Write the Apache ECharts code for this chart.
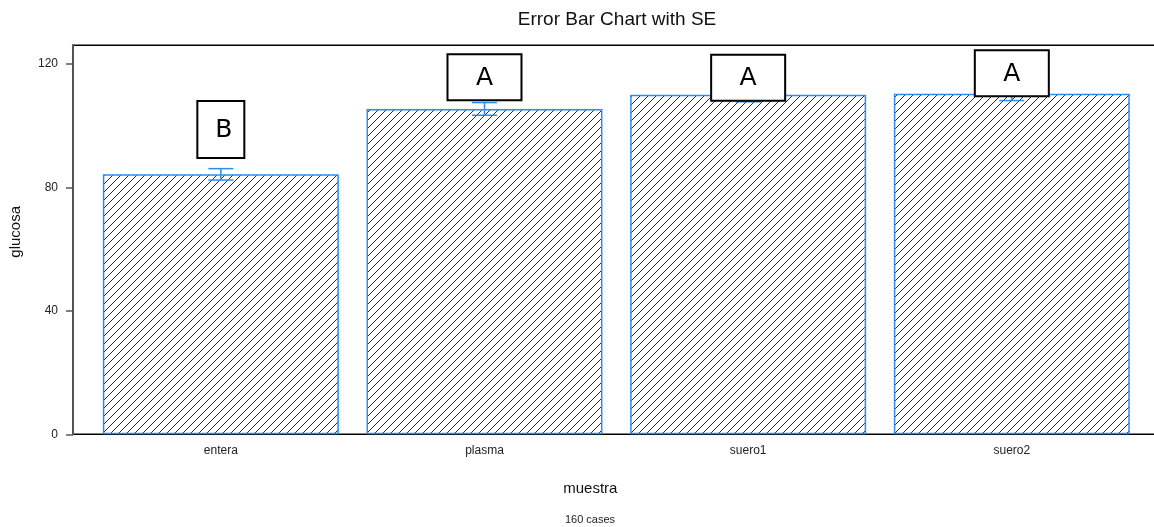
<!DOCTYPE html>
<html>
<head>
<meta charset="utf-8">
<script src="https://cdn.jsdelivr.net/npm/echarts@6/dist/echarts.min.js"></script>
<style>html,body{margin:0;padding:0;background:#fff}#c{width:1154px;height:527px}</style>
</head>
<body>
<div id="c"></div>
<script>
const categories = ['entera', 'plasma', 'suero1', 'suero2'];
const means = [84.2, 105.4, 110.0, 110.3];
const stdErr = [1.85, 2.05, 2.3, 2.2];
const letters = ['B', 'A', 'A', 'A'];
const letterBase = [89.5, 108.2, 108.0, 109.5];
const yMin = 0, yMax = 126, yInterval = 40;

const FONT = 'Liberation Sans, Arial, sans-serif';
const BLUE = '#2d8cf0';

function hatch() {
  const s = 8;
  const c = document.createElement('canvas');
  c.width = s; c.height = s;
  const g = c.getContext('2d');
  g.fillStyle = '#fff';
  g.fillRect(0, 0, s, s);
  g.strokeStyle = '#2a2a2a';
  g.lineWidth = 1;
  g.beginPath();
  g.moveTo(0, s); g.lineTo(s, 0);
  g.moveTo(-2, 2); g.lineTo(2, -2);
  g.moveTo(s - 2, s + 2); g.lineTo(s + 2, s - 2);
  g.stroke();
  return c;
}

const chart = echarts.init(document.getElementById('c'));
const gridTop = 45.3, gridBottom = 92.7;

chart.setOption({
  animation: false,
  backgroundColor: '#fff',
  title: [
    { text: 'Error Bar Chart with SE', left: 617, top: 10, padding: 0, textAlign: 'center',
      textStyle: { fontFamily: FONT, fontSize: 19, fontWeight: 'normal', color: '#111' } },
    { text: '160 cases', left: 590, top: 514, padding: 0, textAlign: 'center',
      textStyle: { fontFamily: FONT, fontSize: 11, fontWeight: 'normal', color: '#222' } }
  ],
  grid: [
    { left: 89, right: 10.35, top: gridTop, bottom: gridBottom, containLabel: false, outerBoundsMode: 'none' },
    { left: 73, right: -40, top: gridTop, bottom: gridBottom, show: true, outerBoundsMode: 'none',
      borderColor: '#000', borderWidth: 1.5, backgroundColor: 'transparent' }
  ],
  xAxis: [
    { type: 'category', gridIndex: 0, data: categories,
      axisLine: { show: false }, axisTick: { show: false },
      axisLabel: { margin: 10, fontFamily: FONT, fontSize: 12, color: '#222' },
      name: 'muestra', nameLocation: 'middle', nameGap: 47,
      nameTextStyle: { fontFamily: FONT, fontSize: 15, color: '#111', padding: [0, 52, 0, 0] } },
    { type: 'value', gridIndex: 1, show: false, min: 0, max: 1 }
  ],
  yAxis: [
    { type: 'value', gridIndex: 0, min: yMin, max: yMax, show: false, splitLine: { show: false } },
    { type: 'value', gridIndex: 1, min: yMin, max: yMax, interval: yInterval,
      axisLine: { show: true, lineStyle: { color: '#555', width: 2 } },
      axisTick: { show: true, length: 7, lineStyle: { color: '#555', width: 1.5 } },
      axisLabel: { margin: 15, fontFamily: FONT, fontSize: 12, color: '#222', showMaxLabel: false },
      splitLine: { show: false },
      name: 'glucosa', nameLocation: 'middle', nameGap: 50,
      nameTextStyle: { fontFamily: FONT, fontSize: 15, color: '#111', padding: [0, 0, 0, 16] } }
  ],
  series: [
    { type: 'bar', xAxisIndex: 0, yAxisIndex: 0, data: means,
      barCategoryGap: '10.5%',
      itemStyle: { color: { image: hatch(), repeat: 'repeat' }, borderColor: BLUE, borderWidth: 1.5 },
      z: 2 },
    { type: 'custom', xAxisIndex: 0, yAxisIndex: 0,
      data: means.map((m, i) => [i, m, stdErr[i]]),
      renderItem: function (params, api) {
        const i = api.value(0), m = api.value(1), e = api.value(2);
        const top = api.coord([i, m + e]);
        const bot = api.coord([i, m - e]);
        const hw = 12.5;
        const st = { stroke: BLUE, lineWidth: 1.5 };
        return { type: 'group', children: [
          { type: 'line', shape: { x1: top[0], y1: top[1], x2: bot[0], y2: bot[1] }, style: st },
          { type: 'line', shape: { x1: top[0] - hw, y1: top[1], x2: top[0] + hw, y2: top[1] }, style: st },
          { type: 'line', shape: { x1: bot[0] - hw, y1: bot[1], x2: bot[0] + hw, y2: bot[1] }, style: st }
        ] };
      },
      z: 3 },
    { type: 'custom', xAxisIndex: 0, yAxisIndex: 0,
      data: letterBase.map((b, i) => [i, b]),
      renderItem: function (params, api) {
        const idx = params.dataIndex;
        const letter = letters[idx];
        const p = api.coord([api.value(0), api.value(1)]);
        const w = letter === 'B' ? 47 : 74;
        const h = letter === 'B' ? 57 : 46;
        return { type: 'group', children: [
          { type: 'rect', shape: { x: p[0] - w / 2, y: p[1] - h, width: w, height: h },
            style: { fill: '#fff', stroke: '#000', lineWidth: 2 } },
          { type: 'text', x: p[0] + (letter === 'B' ? 3 : 0), y: p[1] - h / 2 + 1,
            style: { text: letter, fill: '#000', fontFamily: 'DejaVu Sans, sans-serif', fontSize: 25,
              align: 'center', verticalAlign: 'middle' } }
        ] };
      },
      z: 5 }
  ]
});
</script>
</body>
</html>
